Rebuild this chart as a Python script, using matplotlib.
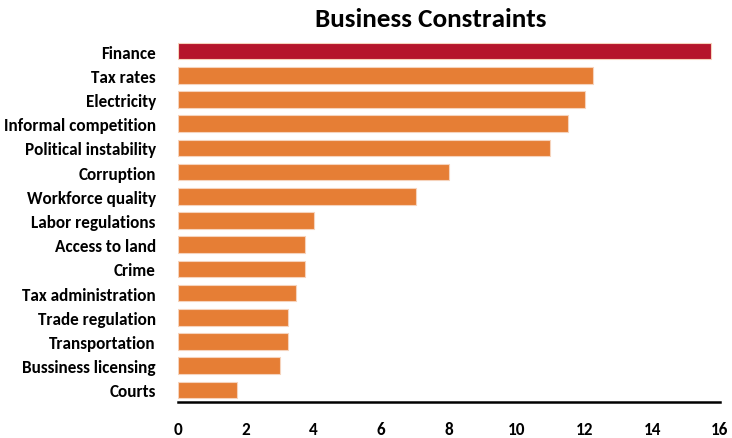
import numpy as np
import matplotlib
matplotlib.use("Agg")
import matplotlib.pyplot as plt

categories = ["Finance", "Tax rates", "Electricity", "Informal competition",
              "Political instability", "Corruption", "Workforce quality",
              "Labor regulations", "Access to land", "Crime",
              "Tax administration", "Trade regulation", "Transportation",
              "Bussiness licensing", "Courts"]
values = [15.73, 12.26, 12.0, 11.5, 10.98, 8.01, 7.02, 4.0, 3.74, 3.74,
          3.47, 3.26, 3.26, 3.0, 1.73]
highlight = "Finance"

plt.rcParams["font.family"] = ["Carlito", "DejaVu Sans"]

fig = plt.figure(figsize=(7.32, 4.39), dpi=100)
ax = fig.add_axes([0.2432, 0.082, 0.7404, 0.8269])

colors = ["#B5152B" if c == highlight else "#E67E35" for c in categories]
y = np.arange(len(categories))
ax.barh(y, values, height=0.68, color=colors, edgecolor="#F6D3BC", linewidth=0.8)

ax.set_ylim(len(categories) - 0.5, -0.5)
ax.set_xlim(0, 16)
ax.set_xticks(range(0, 17, 2))
ax.set_yticks(y)
ax.set_yticklabels(categories, fontsize=12.3, fontweight="bold")
for lab in ax.get_xticklabels():
    lab.set_fontsize(12.3)
    lab.set_fontweight("bold")
ax.tick_params(axis="y", length=0, pad=16)
ax.tick_params(axis="x", length=0, pad=14)

for s in ["top", "right", "left"]:
    ax.spines[s].set_visible(False)
ax.spines["bottom"].set_linewidth(1.8)

ax.set_title("Business Constraints", fontsize=19.5, fontweight="bold", pad=9, x=0.467)

fig.savefig("out.png", dpi=100)
plt.close(fig)
